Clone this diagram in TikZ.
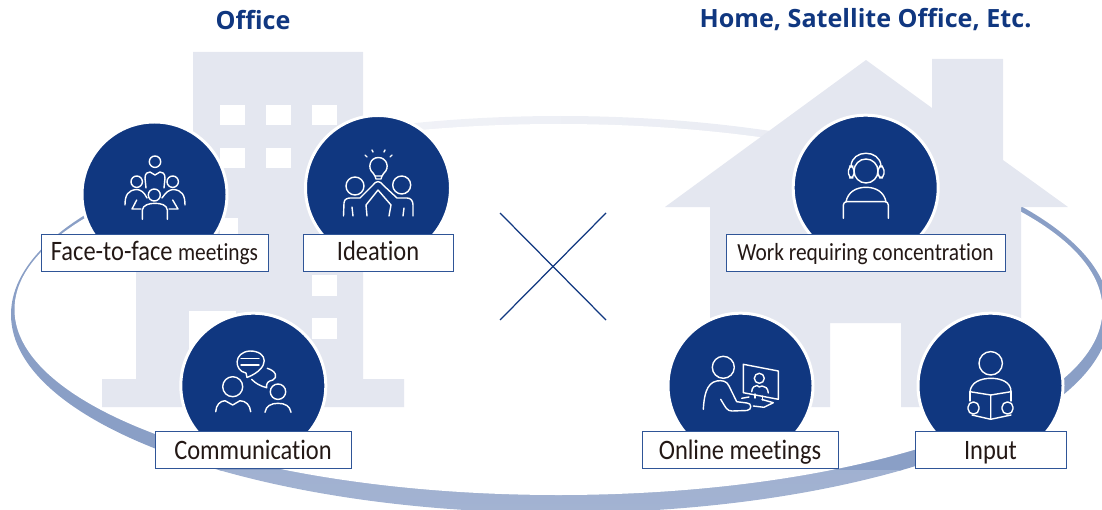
\documentclass[tikz,border=0pt]{standalone}
\usepackage{fontspec}
\setmainfont{Carlito}[FakeStretch=0.87,Ligatures=CommonOff]
\newfontfamily\headfont{Open Sans}
\usepackage{tikz}
\definecolor{navy}{HTML}{103780}
\definecolor{pale}{HTML}{E4E7F0}
\definecolor{boxline}{HTML}{2F5597}
\definecolor{ink}{HTML}{231815}
\definecolor{ringtop}{HTML}{F7F8FB}
\definecolor{ringmid}{HTML}{8A9FC6}
\definecolor{ringlow}{HTML}{A3B3D2}
\tikzstyle{topic} = [circle, fill=navy, draw=white, line width=1.7pt, minimum size=145\unitpx, inner sep=0pt]
\tikzstyle{tag} = [rectangle, draw=boxline, fill=white, line width=0.5pt, minimum height=37\unitpx, inner sep=0pt, text=ink, text height=13pt, text depth=3.4pt, font=\fontsize{16}{18}\selectfont]
\tikzstyle{lowtag} = [tag, text height=14.5pt]
\tikzstyle{head} = [text=navy, font=\headfont\bfseries\fontsize{14.3}{17}\selectfont]
\tikzstyle{icon} = [draw=white, line width=0.8pt, line cap=round, line join=round]
\tikzstyle{backdrop} = [fill=pale]
\newcommand{\unitpx}{*0.02cm}
\begin{document}
\begin{tikzpicture}[x=0.02cm, y=-0.02cm]
\useasboundingbox (0,0) rectangle (1102,510);
%\draw[help lines, step=100] (0,0) grid (1102,510);
% ring, pale at the top, blue at the sides, lighter at the bottom
\clip (0,0) rectangle (1102,510);
\begin{scope}
	\clip (0,0) rectangle (1102,190);
	\shade[left color=ringtop, right color=pale] (560.5,314.5) ellipse [x radius=549.5, y radius=198.5];
\end{scope}
\begin{scope}
	\clip (0,190) rectangle (1102,470);
	\fill[ringmid] (560.5,314.5) ellipse [x radius=549.5, y radius=198.5];
\end{scope}
\begin{scope}
	\clip (0,470) rectangle (1102,510);
	\shade[top color=ringmid, bottom color=ringlow] (560.5,314.5) ellipse [x radius=549.5, y radius=198.5];
\end{scope}
\fill[white] (558.5,309.5) ellipse [x radius=544, y radius=185.5];
% office
\fill[backdrop] (193,52) -- (363,52) -- (363,379) -- (404,379) -- (404,407) -- (102,407) -- (102,379)
	-- (136,379) -- (136,250) -- (193,250) -- cycle;
\foreach \wx in {220,266,312}{
	\fill[white] (\wx,105) rectangle +(25,20);
}
\foreach \wx in {220,266}{
	\fill[white] (\wx,148) rectangle +(25,20);
}
\fill[white] (220,218) rectangle (238,240);
\fill[white] (312,275) rectangle (337,296);
\fill[white] (312,318) rectangle (337,339);
\fill[white] (189,311) rectangle (236,379);
% home
\fill[backdrop] (866,60) -- (932,108) -- (932,59) -- (1003,59) -- (1003,160) -- (1068,207) -- (1021,207)
	-- (1021,407) -- (901,407) -- (901,323) -- (830,323) -- (830,407) -- (710,407) -- (710,207) -- (665,207) -- cycle;
% the cross
\coordinate (xa) at (500,213);
\coordinate (xb) at (606,320);
\coordinate (xc) at (500,320);
\coordinate (xd) at (606,213);
\draw[navy, line width=0.7pt] (xa) -- (xb);
\draw[navy, line width=0.7pt] (xc) -- (xd);
% discs
\node[topic] (face) at (154.5,194.5) {};
\node[topic] (idea) at (378,188) {};
\node[topic] (comm) at (253.3,385.7) {};
\node[topic] (work) at (865.7,187.7) {};
\node[topic] (online) at (740.5,385.7) {};
\node[topic] (input) at (990.5,385.7) {};
% face to face
\draw[icon] (155,161.7) circle (5.7) (136.7,181.7) circle (5.7) (172.7,181.7) circle (5.7) (154.3,195) circle (6);
\draw[icon] (146,188) -- (145,178) .. controls (145,173) and (148,172) .. (150,172) -- (155,175) -- (160,172) .. controls (162,172) and (165,173) .. (165,178) -- (164,188);
\draw[icon] (125,205) .. controls (125,195) and (128,190) .. (137,189.5) .. controls (141,190) and (144,192) .. (147,198);
\draw[icon] (185,205) .. controls (185,195) and (182,190) .. (173,189.5) .. controls (169,190) and (166,192) .. (162,198);
\draw[icon] (142.3,219.3) -- (142.3,210) .. controls (143,205) and (149,203.3) .. (155,203.3) .. controls (161,203.3) and (167,205) .. (167.3,210) -- (167.3,219.3);
\draw[icon] (136.7,200) -- (132,209) -- (141,209) (172.7,200) -- (178,209) -- (169,209);
% ideation
\draw[icon] (373,173) .. controls (367,168) and (370,157.5) .. (378.3,157.5) .. controls (387,157.5) and (390,168) .. (384,173) -- (382,176) -- (375,176) -- cycle;
\draw[icon] (375,176) -- (376,179) -- (381,179) -- (382,176);
\draw[icon] (367,157) -- (365,155) (373,152) -- (372,150) (384,152) -- (385,150) (390,157) -- (392,155);
\draw[icon] (355,186) circle (9) (401.7,185) circle (9);
\draw[icon] (343.5,216) -- (344,203) .. controls (344,199) and (348,198) .. (350,198) -- (360,198) -- (373,185) .. controls (376,180.5) and (380,180.5) .. (383,185) -- (397,198) -- (407,198) .. controls (411,198) and (413,201) .. (413,205) -- (413,216);
\draw[icon] (367,216) -- (366,205) -- (378,190) -- (391,205) -- (389,216);
\draw[icon] (353,216) -- (352,207) (403,216) -- (404,208);
% communication
\draw[icon] (247,377.5) -- (246,373) .. controls (234,371) and (233,352) .. (250,351) .. controls (268,351) and (271,368) .. (247,377.5);
\draw[icon] (241,358.5) -- (259,358.5) (241,365) -- (259,365);
\draw[icon] (267.3,368.3) .. controls (276,371) and (278,377) .. (273,380) .. controls (268,381) and (266,383) .. (266.7,387.7) .. controls (260,386) and (255,383) .. (251.7,379.3);
\draw[icon] (232.7,386.7) circle (10) (278,391.7) circle (7.7);
\draw[icon] (215.7,411.7) .. controls (216,405) and (220,401) .. (225,400.7) -- (232.7,405) -- (240,400.7) .. controls (246,401) and (250,405) .. (250.7,411.7);
\draw[icon] (265,412.3) .. controls (266,406) and (271,403.3) .. (278,403.3) .. controls (285,403.3) and (290,406) .. (291,412.3);
% work
\draw[icon] (866,171) circle (12);
\draw[icon] (851,166) .. controls (852,149) and (880,149) .. (881,166);
\draw[icon, rounded corners=2.5pt] (848.5,166) rectangle (854,178) (878,166) rectangle (884,178);
\draw[icon] (846,201.7) .. controls (848,192) and (856,187.3) .. (866,187.3) .. controls (876,187.3) and (884,192) .. (886,201.7);
\draw[icon] (843.3,218.3) -- (843.3,205) .. controls (843.3,203) and (845,201.7) .. (846.7,201.7) -- (885,201.7) .. controls (887,201.7) and (888.3,203) .. (888.3,205) -- (888.3,218.3);
% online
\draw[icon] (723.3,367.3) circle (11);
\draw[icon] (703.3,409.3) .. controls (704,397) and (706,383) .. (716.7,381) .. controls (722,380) and (727,381) .. (729,386) -- (736.7,401.7) -- (747,403) .. controls (752,403) and (752,410) .. (747,410.5) -- (732,411) .. controls (727,411) and (726,408) .. (720.7,399.3);
\draw[icon] (743.3,364.3) -- (778.3,371) -- (778.3,399.3) -- (743.3,392.7) -- cycle;
\draw[icon] (759.3,378.3) circle (5);
\draw[icon] (751.7,391.7) .. controls (752,387) and (755,385.5) .. (757,385.5) -- (759.3,387) -- (762,386) .. controls (765,386) and (768,388) .. (768.3,393);
\draw[icon] (755,394) -- (755,398) (762.5,396) -- (762.5,400);
\draw[icon] (741.7,398.3) -- (749,397) (762,399.5) -- (773.3,402.7) -- (764,407.3) -- (753.3,406);
% input
\draw[icon] (990.7,363.3) circle (11.7);
\draw[icon] (970,391.7) .. controls (971,382) and (981,378.3) .. (991,378.3) .. controls (1001,378.3) and (1011,382) .. (1011,391.7);
\draw[icon] (970,391.7) -- (990.7,395) -- (1011,391.7) (990.7,395) -- (990.7,419.3);
\draw[icon] (970,391.7) -- (970,401) (1011,391.7) -- (1011,401);
\draw[icon] (972,415) -- (990.7,419.3) -- (1011,415);
\draw[icon, rounded corners=3pt] (968,402) rectangle (979,414) (1002,402) rectangle (1013,414);
% labels
\node[tag, minimum width=227\unitpx] (facetag) at (154.5,252.5) {Face-to-face {\fontsize{14}{16}\selectfont meetings}};
\node[tag, minimum width=150\unitpx] (ideatag) at (378,252.5) {Ideation};
\node[lowtag, minimum width=196\unitpx] (commtag) at (253,449.8) {Communication};
\node[tag, minimum width=279\unitpx, font=\fontsize{14}{16}\selectfont] (worktag) at (865.5,252.5) {Work requiring concentration};
\node[lowtag, minimum width=196\unitpx] (onlinetag) at (740,449.8) {Online meetings};
\node[lowtag, minimum width=151\unitpx] (inputtag) at (990.5,449.8) {Input};
\node[head] (officehead) at (253,20) {Office};
\node[head] (homehead) at (865.5,20) {Home, Satellite Office, Etc.};
\end{tikzpicture}
\end{document}
